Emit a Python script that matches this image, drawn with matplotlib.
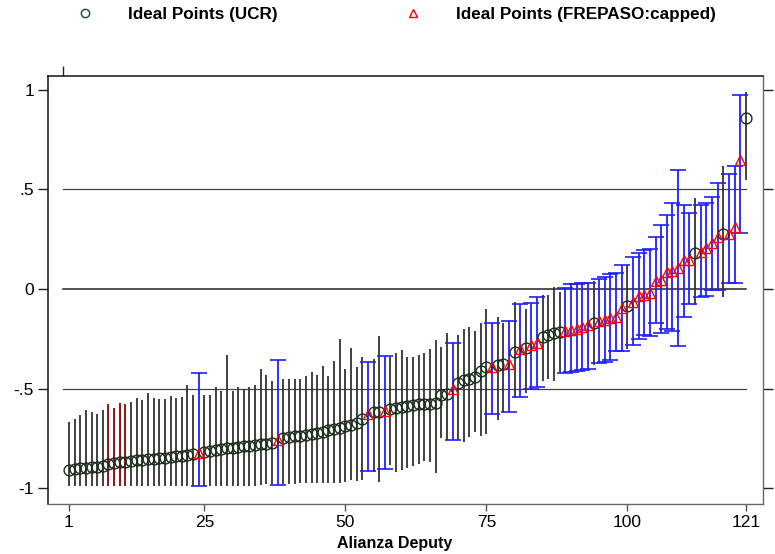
import matplotlib
matplotlib.use("Agg")
import matplotlib.pyplot as plt
from matplotlib.lines import Line2D
import numpy as np

plt.rcParams['font.family'] = ['Liberation Sans', 'DejaVu Sans']

# ---- data ----
deputy = list(range(1, 122))
ideal = [-0.91, -0.905, -0.90, -0.90, -0.895, -0.895, -0.89, -0.88, -0.875, -0.87,
         -0.87, -0.865, -0.86, -0.86, -0.855, -0.855, -0.85, -0.848, -0.845, -0.84,
         -0.838, -0.835, -0.83, -0.826, -0.82, -0.815, -0.81, -0.805, -0.80, -0.797,
         -0.795, -0.79, -0.787, -0.784, -0.78, -0.778, -0.775, -0.76, -0.75, -0.745,
         -0.74, -0.737, -0.735, -0.73, -0.725, -0.72, -0.71, -0.705, -0.70, -0.69,
         -0.685, -0.675, -0.655, -0.63, -0.62, -0.616, -0.612, -0.605, -0.60, -0.595,
         -0.59, -0.585, -0.58, -0.578, -0.577, -0.575, -0.53, -0.525, -0.50, -0.47,
         -0.455, -0.45, -0.44, -0.41, -0.39, -0.39, -0.38, -0.375, -0.375, -0.315,
         -0.30, -0.295, -0.28, -0.27, -0.24, -0.23, -0.22, -0.215, -0.21, -0.205,
         -0.20, -0.19, -0.18, -0.17, -0.16, -0.155, -0.145, -0.14, -0.097, -0.085,
         -0.064, -0.035, -0.03, -0.018, 0.04, 0.045, 0.087, 0.09, 0.104, 0.146,
         0.146, 0.18, 0.185, 0.205, 0.23, 0.26, 0.276, 0.276, 0.31, 0.65,
         0.86]
lower = [-0.99] * 34 + [-0.985, -0.98, -0.98, -0.985, -0.98, -0.98,
         -0.98, -0.976, -0.976, -0.976, -0.976, -0.976, -0.975, -0.976, -0.975, -0.97,
         -0.96, -0.965, -0.96, -0.913, -0.92, -0.967, -0.905, -0.885, -0.92, -0.91,
         -0.90, -0.89, -0.88, -0.863, -0.87, -0.926, -0.75, -0.76, -0.76, -0.76,
         -0.77, -0.745, -0.72, -0.74, -0.73, -0.63, -0.66, -0.62, -0.62, -0.55,
         -0.54, -0.52, -0.50, -0.49, -0.46, -0.45, -0.46, -0.42, -0.42, -0.415,
         -0.41, -0.405, -0.40, -0.38, -0.37, -0.365, -0.355, -0.31, -0.31, -0.30,
         -0.28, -0.25, -0.23, -0.236, -0.17, -0.22, -0.20, -0.21, -0.285, -0.14,
         -0.075, -0.08, -0.04, -0.035, -0.005, -0.005, -0.04, 0.03, 0.03, 0.28,
         0.55]
upper = [-0.667, -0.655, -0.633, -0.608, -0.62, -0.63, -0.61, -0.578, -0.60, -0.575,
         -0.578, -0.57, -0.546, -0.56, -0.524, -0.55, -0.555, -0.555, -0.536, -0.546,
         -0.54, -0.48, -0.53, -0.42, -0.53, -0.53, -0.49, -0.51, -0.33, -0.51,
         -0.49, -0.50, -0.49, -0.48, -0.40, -0.43, -0.46, -0.355, -0.45, -0.45,
         -0.45, -0.45, -0.437, -0.415, -0.43, -0.387, -0.437, -0.362, -0.25, -0.40,
         -0.295, -0.39, -0.343, -0.365, -0.35, -0.236, -0.337, -0.343, -0.323, -0.307,
         -0.34, -0.34, -0.33, -0.32, -0.30, -0.256, -0.29, -0.22, -0.27, -0.23,
         -0.20, -0.19, -0.21, -0.17, -0.10, -0.17, -0.14, -0.17, -0.16, -0.064,
         -0.075, -0.10, -0.07, -0.04, -0.03, -0.03, 0.01, -0.013, 0.007, 0.025,
         0.025, 0.03, 0.03, 0.04, 0.05, 0.06, 0.075, 0.08, 0.12, 0.12,
         0.16, 0.18, 0.196, 0.20, 0.26, 0.32, 0.37, 0.43, 0.60, 0.42,
         0.38, 0.455, 0.42, 0.43, 0.46, 0.53, 0.62, 0.58, 0.62, 0.975,
         0.99]
frepaso = [24, 38, 54, 57, 69, 76, 79, 81, 83, 84, 89, 90, 91, 92, 93, 95, 96, 97, 98, 99,
           101, 102, 103, 104, 105, 106, 107, 108, 109, 110, 111, 113, 114, 115, 116,
           118, 119, 120]
red_bars = [8, 9, 10, 11]
ytick_vals = [1, 0.5, 0, -0.5, -1]
ytick_labels = ['1', '.5', '0', '-.5', '-1']
xtick_vals = [1, 25, 50, 75, 100, 121]
grid_vals = [0.5, 0, -0.5]

deputy = np.array(deputy)
ideal = np.array(ideal)
lower = np.array(lower)
upper = np.array(upper)
is_f = np.isin(deputy, frepaso)
is_red = np.isin(deputy, red_bars)
is_u = ~is_f

fig = plt.figure(figsize=(7.75, 5.54), dpi=100)
ax = fig.add_axes([48/775, 50/554, 715/775, 428/554])

# gridlines
for g in grid_vals:
    ax.plot([0, 121], [g, g], color='#222222' if g == 0 else '#444444',
            lw=1.1 if g == 0 else 0.9, zorder=1)

# UCR bars (no caps)
u_black = is_u & ~is_red
ax.vlines(deputy[u_black], lower[u_black], upper[u_black], color='#333333', lw=1.3, zorder=2)
ax.vlines(deputy[is_red], lower[is_red], upper[is_red], color='#8b0000', lw=1.3, zorder=2)

# FREPASO bars (capped)
ax.errorbar(deputy[is_f], ideal[is_f],
            yerr=[ideal[is_f] - lower[is_f], upper[is_f] - ideal[is_f]],
            fmt='none', ecolor='#2020ff', elinewidth=1.3, capsize=5.5, capthick=1.2,
            zorder=2)

# points
ax.plot(deputy[is_u], ideal[is_u], linestyle='none', marker='o', ms=7.8,
        mfc='none', mec='#1a2e1a', mew=1.0, zorder=3)
ax.plot(deputy[is_f], ideal[is_f], linestyle='none', marker='^', ms=7.8,
        mfc='none', mec='#ff0000', mew=1.0, zorder=3)

ax.set_xlim(-2.72, 124.05)
ax.set_ylim(-1.08, 1.07)

ax.set_yticks(ytick_vals)
ax.set_yticklabels(ytick_labels, fontsize=12.5)
ax.set_xticks(xtick_vals)
ax.set_xticklabels([str(v) for v in xtick_vals], fontsize=12.5)
ax.tick_params(axis='y', direction='out', length=7, width=1, color='#222222',
               right=True, pad=3)
ax.tick_params(axis='x', direction='out', length=5, width=1, color='#555555', pad=3)

for s in ['left', 'top']:
    ax.spines[s].set_color('#111111')
    ax.spines[s].set_linewidth(1.1)
for s in ['right', 'bottom']:
    ax.spines[s].set_color('#666666')
    ax.spines[s].set_linewidth(1.0)

sec = ax.secondary_xaxis('top')
sec.set_xticks([0])
sec.set_xticklabels([''])
sec.tick_params(direction='out', length=7, width=1, color='#222222')
sec.spines['top'].set_visible(False)

ax.set_xlabel('Alianza Deputy', fontsize=11.5, fontweight='bold', labelpad=0)
ax.xaxis.set_label_coords(0.485, -0.075)

# legend
h1 = Line2D([], [], linestyle='none', marker='o', ms=6, mfc='none', mec='#1e4d1e', mew=1.0)
h2 = Line2D([], [], linestyle='none', marker='^', ms=6, mfc='none', mec='#ff0000', mew=1.0)
for h, lab, xpx, fs in [(h1, 'Ideal Points (UCR)', 85, 12.3),
                        (h2, 'Ideal Points (FREPASO:capped)', 413, 12.3)]:
    em = fs * 100 / 72
    left = xpx - 0.5 * em
    fig.legend([h], [lab], loc='center left', bbox_to_anchor=(left/775, 1 - 14/554),
               frameon=False, borderpad=0, borderaxespad=0, handlelength=1,
               handletextpad=(43 + 0.5 * em) / em - 1.0,
               prop={'size': fs, 'weight': 'bold'})

fig.savefig('out.png', dpi=100)
